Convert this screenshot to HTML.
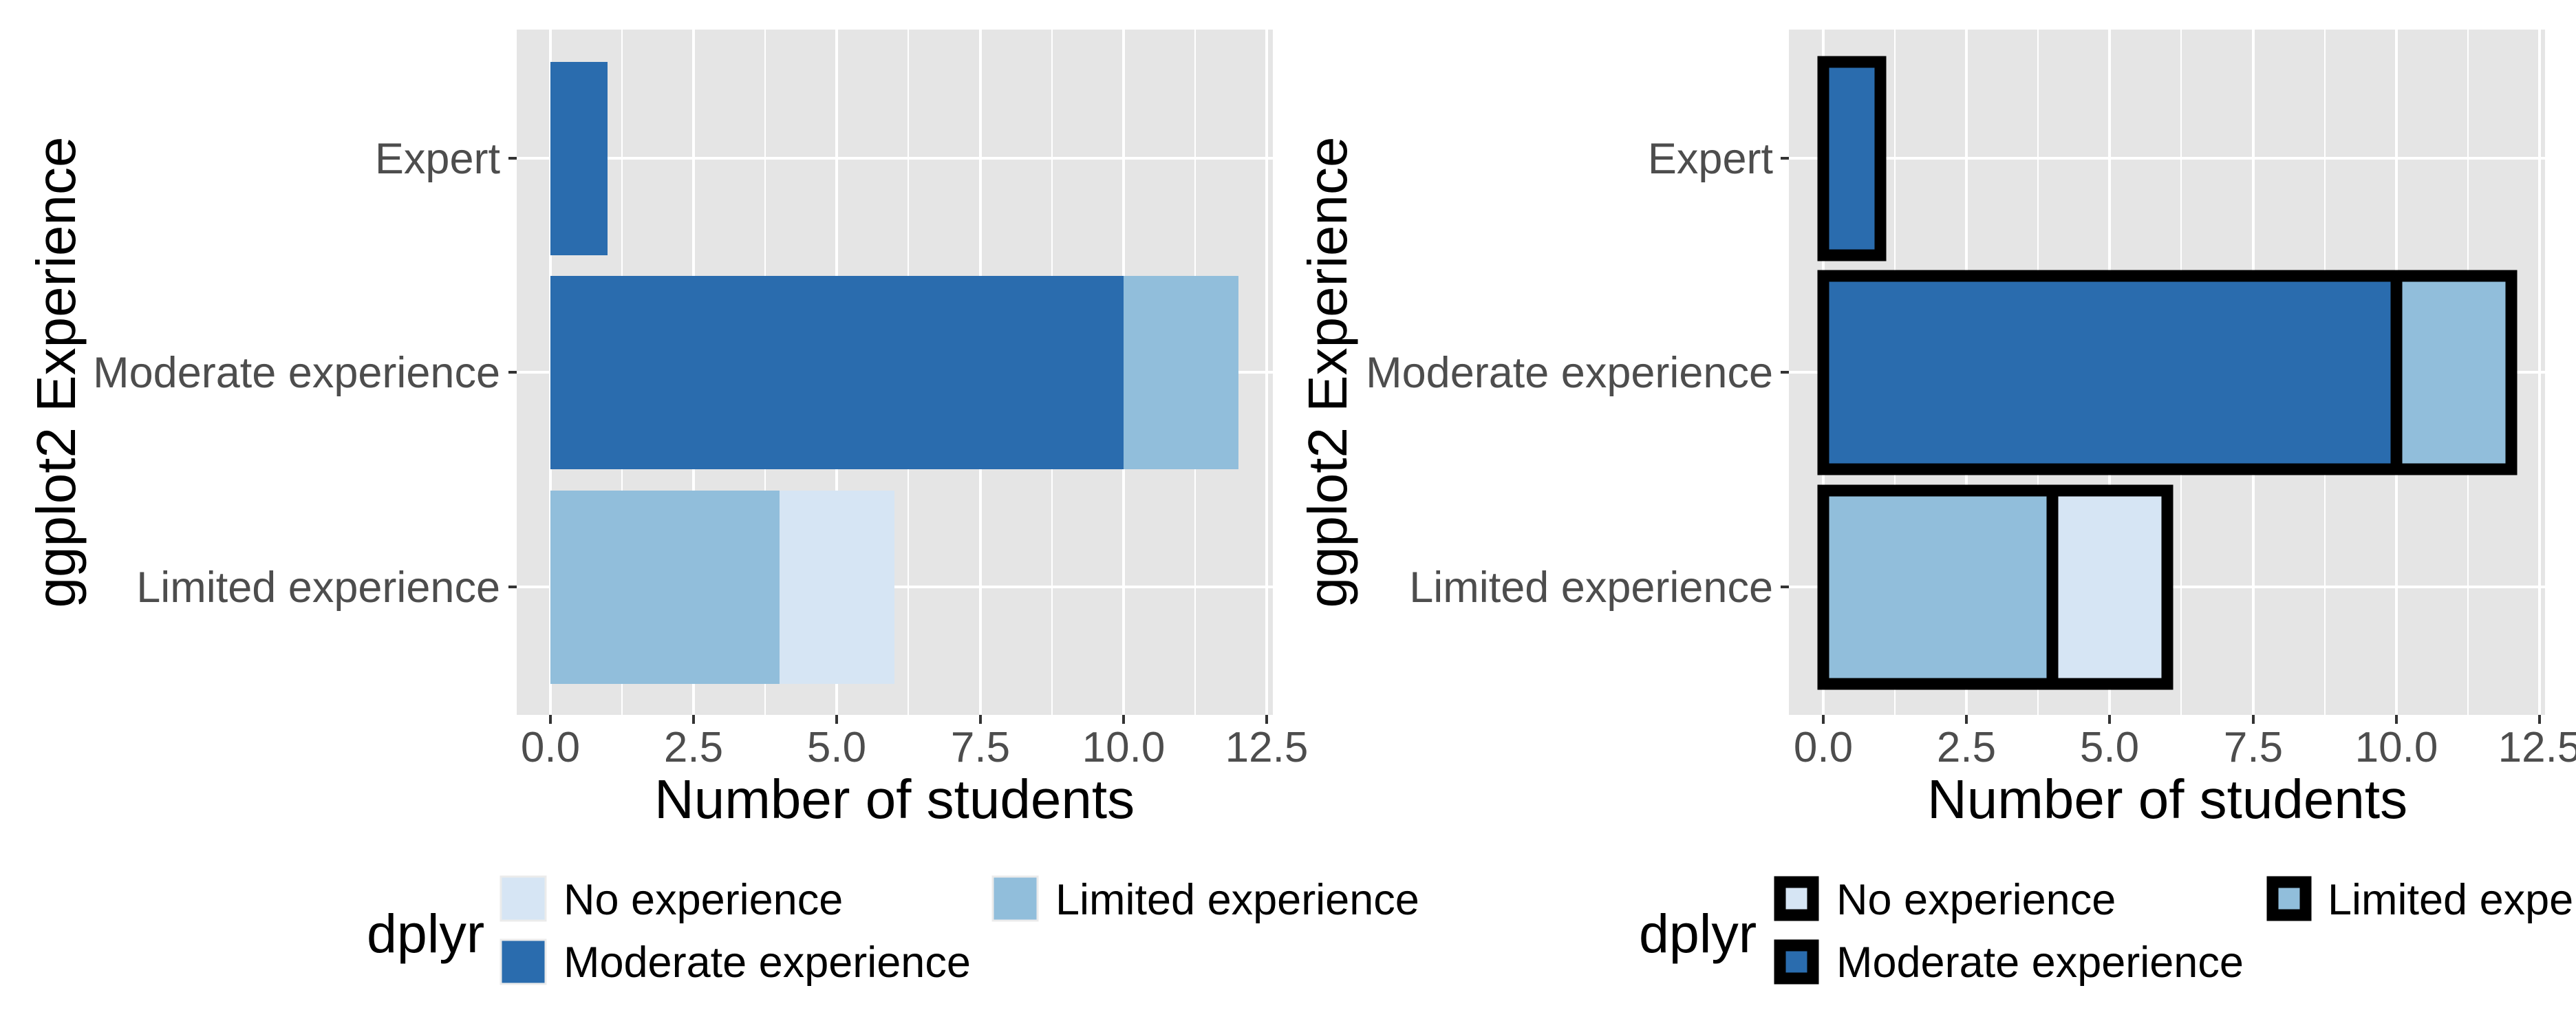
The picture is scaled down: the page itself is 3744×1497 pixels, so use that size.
<!DOCTYPE html>
<html><head><meta charset="utf-8"><style>
html,body{margin:0;padding:0;background:#fff;}
svg{display:block;font-family:"Liberation Sans",Arial,sans-serif;}
</style></head><body>
<svg width="3744" height="1497" viewBox="0 0 3744 1497" xmlns="http://www.w3.org/2000/svg">
<!-- LEFT PANEL -->
<g>
<rect x="751" y="43" width="1099" height="996" fill="#E5E5E5"/>
<g stroke="#fff" stroke-width="2">
<line x1="904" y1="43" x2="904" y2="1039"/><line x1="1112" y1="43" x2="1112" y2="1039"/>
<line x1="1320" y1="43" x2="1320" y2="1039"/><line x1="1529" y1="43" x2="1529" y2="1039"/>
<line x1="1737" y1="43" x2="1737" y2="1039"/>
</g>
<g stroke="#fff" stroke-width="4">
<line x1="800" y1="43" x2="800" y2="1039"/><line x1="1008" y1="43" x2="1008" y2="1039"/>
<line x1="1216" y1="43" x2="1216" y2="1039"/><line x1="1425" y1="43" x2="1425" y2="1039"/>
<line x1="1633" y1="43" x2="1633" y2="1039"/><line x1="1841" y1="43" x2="1841" y2="1039"/>
<line x1="751" y1="230" x2="1850" y2="230"/><line x1="751" y1="541" x2="1850" y2="541"/>
<line x1="751" y1="853" x2="1850" y2="853"/>
</g>
<rect x="800" y="90" width="83" height="281" fill="#2A6CAE"/>
<rect x="800" y="401" width="833" height="281" fill="#2A6CAE"/>
<rect x="1633" y="401" width="167" height="281" fill="#91BEDB"/>
<rect x="800" y="713" width="333" height="281" fill="#91BEDB"/>
<rect x="1133" y="713" width="167" height="281" fill="#D6E5F4"/>
<g stroke="#333" stroke-width="4">
<line x1="739" y1="230" x2="751" y2="230"/><line x1="739" y1="541" x2="751" y2="541"/><line x1="739" y1="853" x2="751" y2="853"/>
<line x1="800" y1="1039" x2="800" y2="1052"/><line x1="1008" y1="1039" x2="1008" y2="1052"/><line x1="1216" y1="1039" x2="1216" y2="1052"/>
<line x1="1425" y1="1039" x2="1425" y2="1052"/><line x1="1633" y1="1039" x2="1633" y2="1052"/><line x1="1841" y1="1039" x2="1841" y2="1052"/>
</g>
<g fill="#4D4D4D" font-size="63" text-anchor="end">
<text x="727" y="252">Expert</text><text x="727" y="563">Moderate experience</text><text x="727" y="875">Limited experience</text>
</g>
<g fill="#4D4D4D" font-size="62" text-anchor="middle">
<text x="800" y="1107">0.0</text><text x="1008" y="1107">2.5</text><text x="1216" y="1107">5.0</text>
<text x="1425" y="1107">7.5</text><text x="1633" y="1107">10.0</text><text x="1841" y="1107">12.5</text>
</g>
<text x="1300" y="1189" font-size="80" text-anchor="middle" fill="#000">Number of students</text>
<text transform="translate(109,541) rotate(-90)" font-size="80" text-anchor="middle" fill="#000">ggplot2 Experience</text>
<text x="533" y="1384" font-size="79" fill="#000">dplyr</text>
<rect x="728" y="1274" width="65" height="64" fill="#D6E5F4" stroke="#EBEBEB" stroke-width="3"/>
<rect x="728" y="1366" width="65" height="64" fill="#2A6CAE" stroke="#EBEBEB" stroke-width="3"/>
<rect x="1443" y="1274" width="65" height="64" fill="#91BEDB" stroke="#EBEBEB" stroke-width="3"/>
<g font-size="63" fill="#000">
<text x="819" y="1329">No experience</text><text x="819" y="1420">Moderate experience</text><text x="1534" y="1329">Limited experience</text>
</g>
</g>
<!-- RIGHT PANEL -->
<g>
<rect x="2600" y="43" width="1099" height="996" fill="#E5E5E5"/>
<g stroke="#fff" stroke-width="2">
<line x1="2754" y1="43" x2="2754" y2="1039"/><line x1="2962" y1="43" x2="2962" y2="1039"/>
<line x1="3170" y1="43" x2="3170" y2="1039"/><line x1="3379" y1="43" x2="3379" y2="1039"/>
<line x1="3587" y1="43" x2="3587" y2="1039"/>
</g>
<g stroke="#fff" stroke-width="4">
<line x1="2650" y1="43" x2="2650" y2="1039"/><line x1="2858" y1="43" x2="2858" y2="1039"/>
<line x1="3066" y1="43" x2="3066" y2="1039"/><line x1="3275" y1="43" x2="3275" y2="1039"/>
<line x1="3483" y1="43" x2="3483" y2="1039"/><line x1="3691" y1="43" x2="3691" y2="1039"/>
<line x1="2600" y1="230" x2="3699" y2="230"/><line x1="2600" y1="541" x2="3699" y2="541"/>
<line x1="2600" y1="853" x2="3699" y2="853"/>
</g>
<g stroke="#000" stroke-width="17">
<rect x="2650" y="90" width="83" height="281" fill="#2A6CAE"/>
<rect x="2650" y="401" width="833" height="281" fill="#2A6CAE"/>
<rect x="3483" y="401" width="167" height="281" fill="#91BEDB"/>
<rect x="2650" y="713" width="333" height="281" fill="#91BEDB"/>
<rect x="2983" y="713" width="167" height="281" fill="#D6E5F4"/>
</g>
<g stroke="#333" stroke-width="4">
<line x1="2588" y1="230" x2="2600" y2="230"/><line x1="2588" y1="541" x2="2600" y2="541"/><line x1="2588" y1="853" x2="2600" y2="853"/>
<line x1="2650" y1="1039" x2="2650" y2="1052"/><line x1="2858" y1="1039" x2="2858" y2="1052"/><line x1="3066" y1="1039" x2="3066" y2="1052"/>
<line x1="3275" y1="1039" x2="3275" y2="1052"/><line x1="3483" y1="1039" x2="3483" y2="1052"/><line x1="3691" y1="1039" x2="3691" y2="1052"/>
</g>
<g fill="#4D4D4D" font-size="63" text-anchor="end">
<text x="2577" y="252">Expert</text><text x="2577" y="563">Moderate experience</text><text x="2577" y="875">Limited experience</text>
</g>
<g fill="#4D4D4D" font-size="62" text-anchor="middle">
<text x="2650" y="1107">0.0</text><text x="2858" y="1107">2.5</text><text x="3066" y="1107">5.0</text>
<text x="3275" y="1107">7.5</text><text x="3483" y="1107">10.0</text><text x="3691" y="1107">12.5</text>
</g>
<text x="3150" y="1189" font-size="80" text-anchor="middle" fill="#000">Number of students</text>
<text transform="translate(1957,541) rotate(-90)" font-size="80" text-anchor="middle" fill="#000">ggplot2 Experience</text>
<text x="2382" y="1384" font-size="79" fill="#000">dplyr</text>
<g stroke="#000" stroke-width="17">
<rect x="2587" y="1282" width="48" height="48" fill="#D6E5F4"/>
<rect x="2587" y="1374" width="48" height="48" fill="#2A6CAE"/>
<rect x="3303" y="1282" width="48" height="48" fill="#91BEDB"/>
</g>
<g font-size="63" fill="#000">
<text x="2669" y="1329">No experience</text><text x="2669" y="1420">Moderate experience</text><text x="3383" y="1329">Limited experience</text>
</g>
</g>
</svg>
</body></html>
